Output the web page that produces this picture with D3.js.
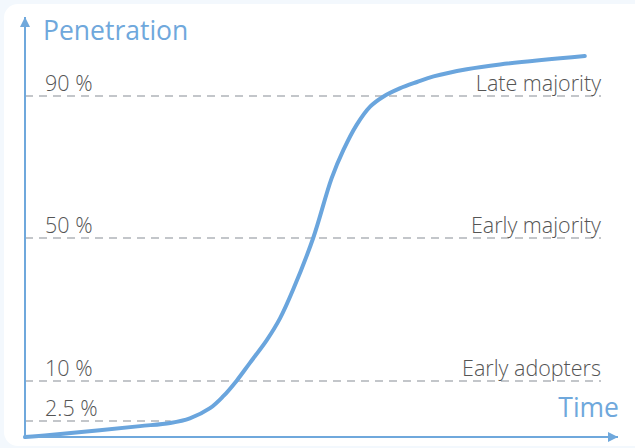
<!DOCTYPE html>
<html>
<head>
<meta charset="utf-8">
<script src="https://cdn.jsdelivr.net/npm/d3@7"></script>
<style>
  html, body { margin: 0; padding: 0; background: #f3f8fd; }
  svg { display: block; }
</style>
</head>
<body>
<svg id="chart" width="635" height="448"></svg>
<script>
// adoption levels (percent) and their labels
var levels = [90, 50, 10, 2.5];
var levelLabels = ["90 %", "50 %", "10 %", "2.5 %"];
var groupLabels = ["Late majority", "Early majority", "Early adopters", ""];

// diffusion curve: time (0-100) vs penetration (%)
var timeValues = [0, 4.2, 12.6, 19.4, 24.5, 27.8, 31.2, 33.4, 35.7, 37.9, 40.8, 43.0, 45.2, 48.6, 51.7, 53.7, 55.9, 58.2, 60.4, 63.2, 66.1, 68.9, 74.5, 80.1, 94.4];
var penetration = [0, 0.3, 1.05, 1.7, 2.2, 3.0, 4.9, 7.1, 10.1, 15, 21.5, 27.5, 35.5, 50, 66.8, 74.8, 81.8, 87, 89.8, 91.9, 93.5, 94.9, 96.7, 97.9, 100];

var svg = d3.select("#chart");
var blue = "#6fa8dc";
var font = "'Open Sans', 'Noto Sans', sans-serif";

// white card
svg.append("rect")
    .attr("x", 4).attr("y", 4)
    .attr("width", 660).attr("height", 442)
    .attr("rx", 14)
    .attr("fill", "#fff");

var x = d3.scaleLinear().domain([0, 100]).range([25, 618]);
// the picture does not space its levels evenly, so the scale is piecewise
var y = d3.scaleLinear()
    .domain([0, 2.5, 10, 50, 90, 100])
    .range([437, 421, 381, 238, 96, 56]);

var curve = timeValues.map(function(t, i) { return [t, penetration[i]]; });

// where the 2.5% guide stops (just before it meets the curve)
var cutT = d3.scaleLinear().domain([penetration[4], penetration[5]]).range([timeValues[4], timeValues[5]])(2.5);

var guides = svg.append("g");
levels.forEach(function(lv, i) {
    var xEnd = lv === 2.5 ? x(cutT) - 7 : 601;
    guides.append("line")
        .attr("x1", x(0)).attr("x2", xEnd)
        .attr("y1", y(lv)).attr("y2", y(lv))
        .attr("stroke", "#c3c6ca")
        .attr("stroke-width", 2)
        .attr("stroke-dasharray", "8,6");
    guides.append("text")
        .attr("x", 45).attr("y", y(lv) - 5)
        .attr("font-family", font)
        .attr("font-weight", 300)
        .attr("font-size", 21.5)
        .attr("fill", "#555")
        .text(levelLabels[i]);
    if (groupLabels[i]) {
        guides.append("text")
            .attr("x", 601).attr("y", y(lv) - 5)
            .attr("text-anchor", "end")
            .attr("font-family", font)
            .attr("font-weight", 300)
            .attr("font-size", 21.5)
            .attr("fill", "#555")
            .text(groupLabels[i]);
    }
});

// curve
var line = d3.line()
    .x(function(d) { return x(d[0]); })
    .y(function(d) { return y(d[1]); })
    .curve(d3.curveCatmullRom.alpha(0.5));

svg.append("path")
    .datum(curve)
    .attr("d", line)
    .attr("fill", "none")
    .attr("stroke", "#6aa5dd")
    .attr("stroke-width", 4)
    .attr("stroke-linecap", "round");

// axes with arrows
var defs = svg.append("defs");
defs.append("marker")
    .attr("id", "arrow")
    .attr("viewBox", "0 0 10 10")
    .attr("refX", 10).attr("refY", 5)
    .attr("markerWidth", 12).attr("markerHeight", 10)
    .attr("markerUnits", "userSpaceOnUse")
    .attr("orient", "auto")
    .append("path")
    .attr("d", "M0,0L10,5L0,10Z")
    .attr("fill", blue);

svg.append("line")
    .attr("x1", x(0)).attr("y1", y(0))
    .attr("x2", x(0)).attr("y2", 17)
    .attr("stroke", blue).attr("stroke-width", 2)
    .attr("marker-end", "url(#arrow)");

svg.append("line")
    .attr("x1", x(0) - 1).attr("y1", y(0))
    .attr("x2", x(100)).attr("y2", y(0))
    .attr("stroke", blue).attr("stroke-width", 2)
    .attr("marker-end", "url(#arrow)");

svg.append("text")
    .attr("x", 43).attr("y", 40)
    .attr("font-family", font)
    .attr("font-size", 26.5)
    .attr("fill", blue)
    .text("Penetration");

svg.append("text")
    .attr("x", 619).attr("y", 417)
    .attr("text-anchor", "end")
    .attr("font-family", font)
    .attr("font-size", 26.5)
    .attr("fill", blue)
    .text("Time");
</script>
</body>
</html>
